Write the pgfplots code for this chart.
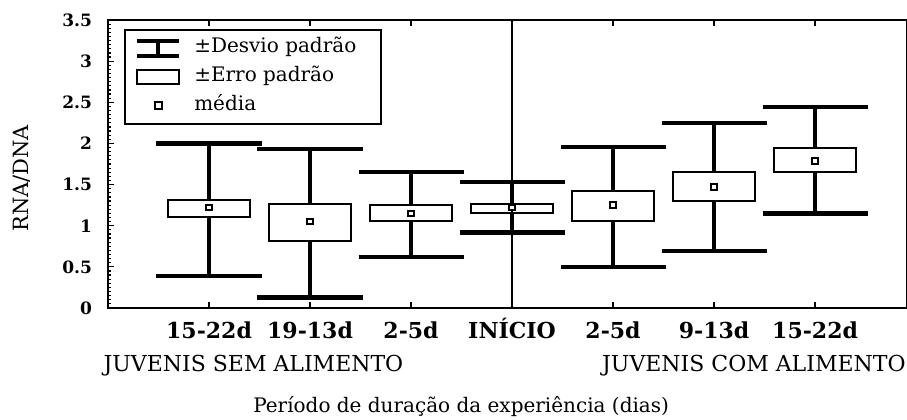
\documentclass[border=0pt]{standalone}
\usepackage{fontspec}
\setmainfont{DejaVu Serif}
\usepackage{pgfplots}
\usepackage{pgfplotstable}
\pgfplotsset{compat=1.18}
\usepgfplotslibrary{statistics}

% RNA/DNA per group: mean (the squares)
\pgfplotstableread{
pos mean
1 1.22
2 1.05
3 1.15
4 1.22
5 1.25
6 1.47
7 1.79
}\rnamean

% one box per group: -SD, -SE, +SE, +SD
\pgfplotsset{
  rna/.style n args={5}{black, forget plot,
    boxplot prepared={draw direction=y, draw position=#1, lower whisker=#2,
      lower quartile=#3, median=#3, upper quartile=#4, upper whisker=#5}},
}

\begin{document}
\begin{tikzpicture}
\useasboundingbox (-54pt,-55.5pt) rectangle (399.5pt,154pt);
\begin{axis}[
  scale only axis, width=399.5pt, height=144pt,
  xmin=0, xmax=7.91, ymin=0, ymax=3.5,
  clip=false,
  axis line style={line width=1.1pt},
  tick style={black, line width=0.6pt},
  major tick length=3pt, minor tick length=1.5pt,
  ytick={0,0.5,1,1.5,2,2.5,3,3.5}, minor y tick num=9, ytick pos=left,
  xtick={1,2,3,4,5,6,7},
  xticklabels={15-22d,19-13d,2-5d,INÍCIO,2-5d,9-13d,15-22d},
  /pgf/number format/assume math mode=true,
  yticklabel style={font=\fontsize{8.5}{10}\selectfont\bfseries, anchor=east, xshift=-4.5pt},
  xticklabel style={font=\fontsize{11}{12}\selectfont\bfseries, anchor=base, yshift=-15pt},
  boxplot/box extend=0.81, boxplot/whisker extend=1.04,
  boxplot/every box/.style={line width=1pt},
  boxplot/every whisker/.style={line width=2.2pt},
  boxplot/draw/median/.code={},
  legend style={at={(0.02,0.969)}, anchor=north west, draw=black, line width=1.1pt,
    font=\fontsize{10}{11}\selectfont, cells={anchor=west},
    inner xsep=5pt, inner ysep=2pt, column sep=4pt,
    nodes={text height=7pt, text depth=2.5pt, inner sep=2.4pt}},
]
\addlegendimage{legend image code/.code={
  \draw[line width=2.2pt] (0pt,3.7pt) -- (21pt,3.7pt);
  \draw[line width=2.2pt] (0pt,-3.7pt) -- (21pt,-3.7pt);
  \draw[line width=2.2pt] (10.5pt,3.7pt) -- (10.5pt,-3.7pt);}}
\addlegendentry{±Desvio padrão\hspace*{5pt}\mbox{}}
\addlegendimage{legend image code/.code={
  \draw[line width=1pt] (0pt,-3.5pt) rectangle (21pt,3.5pt);}}
\addlegendentry{±Erro padrão}
\addlegendimage{legend image code/.code={
  \draw[line width=1pt, fill=white] (8.7pt,-1.6pt) rectangle (12.3pt,1.6pt);}}
\addlegendentry{média}

% divider at start of experiment
\addplot[black, line width=0.7pt, forget plot] coordinates {(4,0) (4,3.5)};

\addplot[rna={1}{0.39}{1.10}{1.31}{2.00}] coordinates {};
\addplot[rna={2}{0.13}{0.81}{1.26}{1.93}] coordinates {};
\addplot[rna={3}{0.62}{1.06}{1.25}{1.65}] coordinates {};
\addplot[rna={4}{0.92}{1.16}{1.27}{1.53}] coordinates {};
\addplot[rna={5}{0.50}{1.06}{1.42}{1.96}] coordinates {};
\addplot[rna={6}{0.69}{1.30}{1.65}{2.25}] coordinates {};
\addplot[rna={7}{1.15}{1.65}{1.94}{2.44}] coordinates {};

\addplot[only marks, forget plot, mark=square*, mark size=1.4pt,
  mark options={fill=white, draw=black, line width=1pt}]
  table[x=pos, y=mean] {\rnamean};

\node[font=\fontsize{10.5}{12}\selectfont, rotate=90, anchor=center]
  at (axis description cs:-0.1076,0.45) {RNA/DNA};
\node[font=\fontsize{11}{12}\selectfont, anchor=base west, inner sep=0pt]
  at (axis description cs:-0.006,-0.222) {JUVENIS SEM ALIMENTO};
\node[font=\fontsize{11}{12}\selectfont, anchor=base west, inner sep=0pt]
  at (axis description cs:0.618,-0.222) {JUVENIS COM ALIMENTO};
\node[font=\fontsize{10}{11}\selectfont, anchor=base]
  at (axis description cs:0.442,-0.362) {Período de duração da experiência (dias)};
\end{axis}
\end{tikzpicture}
\end{document}
